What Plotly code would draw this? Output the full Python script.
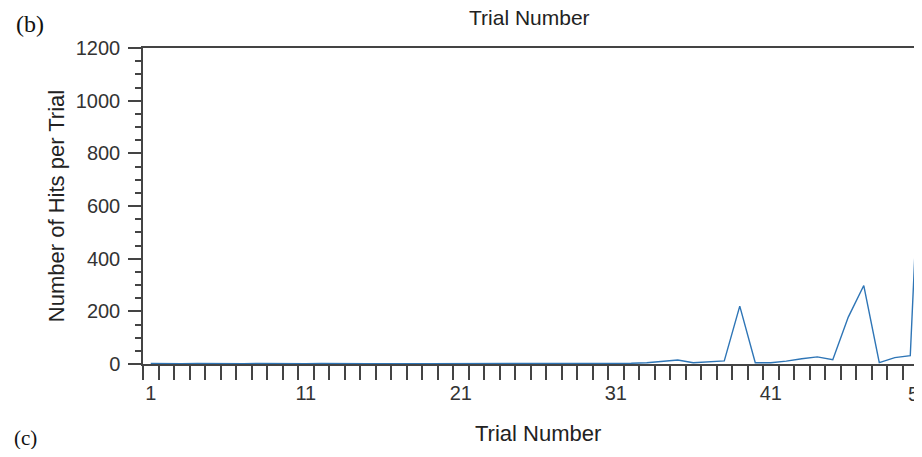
import plotly.graph_objects as go

trials = list(range(1, 52))
hits = [2, 1, 1, 2, 1, 1, 1, 2, 1, 1,
        1, 2, 1, 1, 1, 1, 2, 1, 1, 1,
        1, 1, 2, 1, 1, 1, 1, 2, 1, 2,
        2, 3, 5, 9, 15, 5, 8, 12, 220, 5,
        5, 11, 20, 27, 16, 178, 298, 5, 24, 32,
        1330]
x_tick_vals = [1, 11, 21, 31, 41]
x_tick_text = ["1", "11", "21", "31", "41"]
boundaries = [k - 0.5 for k in trials[:-1]]

SANS = "Liberation Sans, Arial, sans-serif"
SERIF = "Liberation Serif, Times New Roman, serif"
AX = "#444444"

fig = go.Figure()
fig.add_trace(go.Scatter(x=trials, y=hits, mode="lines",
                         line=dict(color="#2e75b6", width=1.4),
                         showlegend=False))

fig.update_layout(
    width=906, height=441,
    margin=dict(l=135, r=0, t=40, b=85, autoexpand=False),
    paper_bgcolor="white", plot_bgcolor="white",
    font=dict(family=SANS, color="#333333"),
)
fig.update_xaxes(
    range=[0.5, 50.24], automargin=False,
    tickmode="array", tickvals=x_tick_vals, ticktext=x_tick_text,
    ticks="outside", ticklen=10, tickcolor="rgba(0,0,0,0)",
    tickfont=dict(size=20, color="#333333"),
    minor=dict(tickmode="array", tickvals=boundaries, ticks="outside",
               ticklen=14, tickcolor=AX, tickwidth=1.5, showgrid=False),
    showline=True, linecolor=AX, linewidth=1.5, mirror=True,
    showgrid=False, zeroline=False,
)
fig.update_yaxes(
    range=[0, 1200], tickmode="linear", tick0=0, dtick=200, automargin=False,
    ticks="outside", ticklen=13, tickcolor=AX, tickwidth=1.5,
    minor=dict(dtick=50, ticks="outside", ticklen=6, tickcolor=AX, tickwidth=1.5,
               showgrid=False),
    tickfont=dict(size=20, color="#333333"),
    ticklabelstandoff=4,
    showline=True, linecolor=AX, linewidth=1.5,
    showgrid=False, zeroline=False,
    title=dict(text="Number of Hits per Trial", font=dict(size=22, color="#222222"), standoff=5),
)

# x-axis title (centred on the full, partly cut-off plot width of the original)
fig.add_annotation(text="Trial Number", xref="paper", yref="paper",
                   x=0.5117, y=-0.2215, xanchor="center", yanchor="middle",
                   showarrow=False, font=dict(family=SANS, size=22, color="#222222"))
fig.add_annotation(text="Trial Number", xref="paper", yref="paper",
                   x=0.501, y=1.0965, xanchor="center", yanchor="middle",
                   showarrow=False, font=dict(family=SANS, size=21, color="#222222"))
fig.add_annotation(text="(b)", xref="paper", yref="paper",
                   x=-0.1465, y=1.076, xanchor="center", yanchor="middle",
                   showarrow=False, font=dict(family=SERIF, size=24, color="#111111"))
fig.add_annotation(text="(c)", xref="paper", yref="paper",
                   x=-0.153, y=-0.234, xanchor="center", yanchor="middle",
                   showarrow=False, font=dict(family=SERIF, size=21, color="#111111"))
fig.add_annotation(text="51", xref="paper", yref="paper",
                   x=0.9899, y=-0.0949, xanchor="left", yanchor="middle",
                   showarrow=False, font=dict(family=SANS, size=20, color="#333333"))

fig.write_html("out.html")
